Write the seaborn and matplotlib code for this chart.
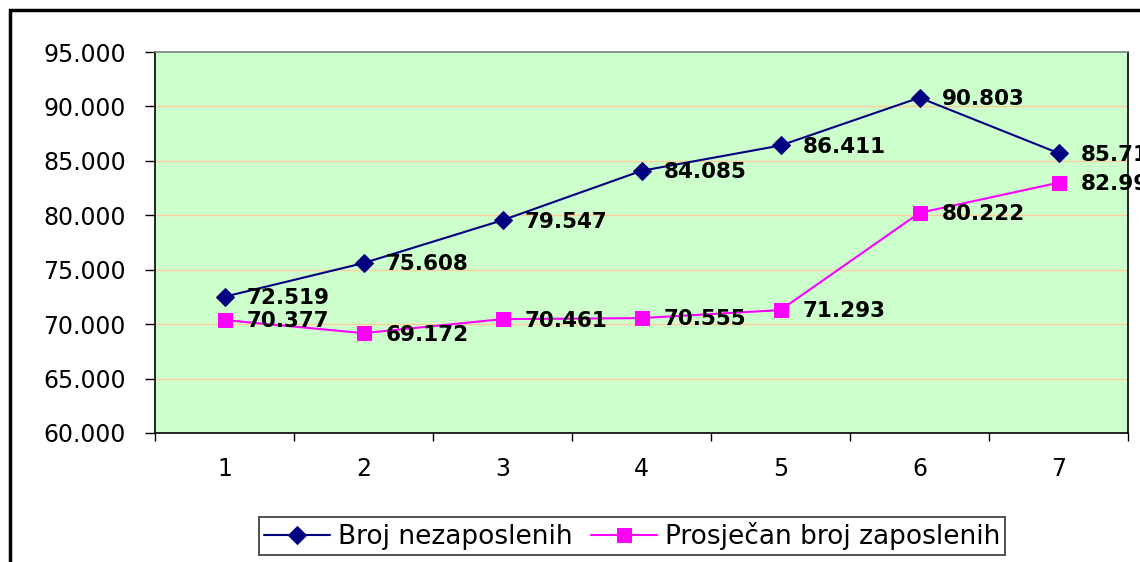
import matplotlib
matplotlib.use("Agg")
import matplotlib.pyplot as plt
from matplotlib.patches import Rectangle
from matplotlib.ticker import FuncFormatter, FixedLocator
import seaborn as sns
import pandas as pd

periods = [1, 2, 3, 4, 5, 6, 7]
nezaposleni = [72519, 75608, 79547, 84085, 86411, 90803, 85711]
zaposleni = [70377, 69172, 70461, 70555, 71293, 80222, 82993]
series_names = ["Broj nezaposlenih", "Prosječan broj zaposlenih"]
y_ticks = [60000, 65000, 70000, 75000, 80000, 85000, 90000, 95000]

sns.set_style("white")
plt.rcParams['font.family'] = ['DejaVu Sans']
plt.rcParams['text.color'] = 'black'
plt.rcParams['xtick.color'] = 'black'
plt.rcParams['ytick.color'] = 'black'
plt.rcParams['xtick.labelcolor'] = 'black'
plt.rcParams['ytick.labelcolor'] = 'black'

fig = plt.figure(figsize=(11.4, 5.62), dpi=100)
ax = fig.add_axes([155/1140, 1-433/562, 973/1140, 381/562])
ax.set_facecolor("#CCFFCC")

df1 = pd.DataFrame({"x": periods, "y": nezaposleni})
df2 = pd.DataFrame({"x": periods, "y": zaposleni})

sns.lineplot(data=df1, x="x", y="y", ax=ax, color="#000080", marker="D",
             markersize=9, markeredgecolor="#000080", linewidth=1.5,
             label=series_names[0], zorder=3)
sns.lineplot(data=df2, x="x", y="y", ax=ax, color="#FF00FF", marker="s",
             markersize=10, markeredgecolor="#FF00FF", linewidth=1.5,
             label=series_names[1], zorder=3)

def fmt(v):
    return f"{v:,.0f}".replace(",", ".")

for xs, ys in [(periods, nezaposleni), (periods, zaposleni)]:
    for xv, yv in zip(xs, ys):
        ax.annotate(fmt(yv), (xv, yv), xytext=(16, -1), textcoords="offset points",
                    ha="left", va="center", fontsize=15.5, fontweight="bold",
                    color="black", annotation_clip=False, zorder=4)

ax.set_xlim(0.5, 7.5)
ax.set_ylim(60000, 95000)
ax.set_yticks(y_ticks)
ax.yaxis.set_major_formatter(FuncFormatter(lambda v, p: fmt(v)))
ax.set_xticks(periods)
ax.set_xticklabels([str(p) for p in periods])
ax.xaxis.set_minor_locator(FixedLocator([0.5 + i for i in range(8)]))
ax.tick_params(axis="x", which="major", length=0, pad=17, labelsize=17)
ax.tick_params(axis="x", which="minor", length=6, width=1, color="black", direction="out", bottom=True)
ax.tick_params(axis="y", which="major", length=7, width=1, color="black", direction="out",
               pad=14, labelsize=17, left=True)
ax.set_xlabel("")
ax.set_ylabel("")

ax.grid(False)
for yv in y_ticks[1:-1]:
    ax.axhline(yv, color="#FFCC99", linewidth=1, zorder=1)

ax.spines["left"].set_color("black")
ax.spines["bottom"].set_color("black")
ax.spines["top"].set_color("#808080")
ax.spines["right"].set_color("black")
for s in ax.spines.values():
    s.set_linewidth(1.2)
    s.set_visible(True)

handles, labels = ax.get_legend_handles_labels()
ax.get_legend().remove()
leg = fig.legend(handles, labels, loc="center", bbox_to_anchor=(632/1140, 1-536/562),
                 ncol=2, frameon=True, fancybox=False, edgecolor="black",
                 fontsize=19, handlelength=2.5, handletextpad=0.3, columnspacing=0.7,
                 borderpad=0.2, borderaxespad=0)
leg.get_frame().set_linewidth(1.2)
for t in leg.get_texts():
    t.set_color("black")

fig.patches.append(Rectangle((10/1140, -0.1), 1.2, 1-10/562+0.1, transform=fig.transFigure,
                             fill=False, edgecolor="black", linewidth=2.5))

fig.savefig("out.png", dpi=100)
